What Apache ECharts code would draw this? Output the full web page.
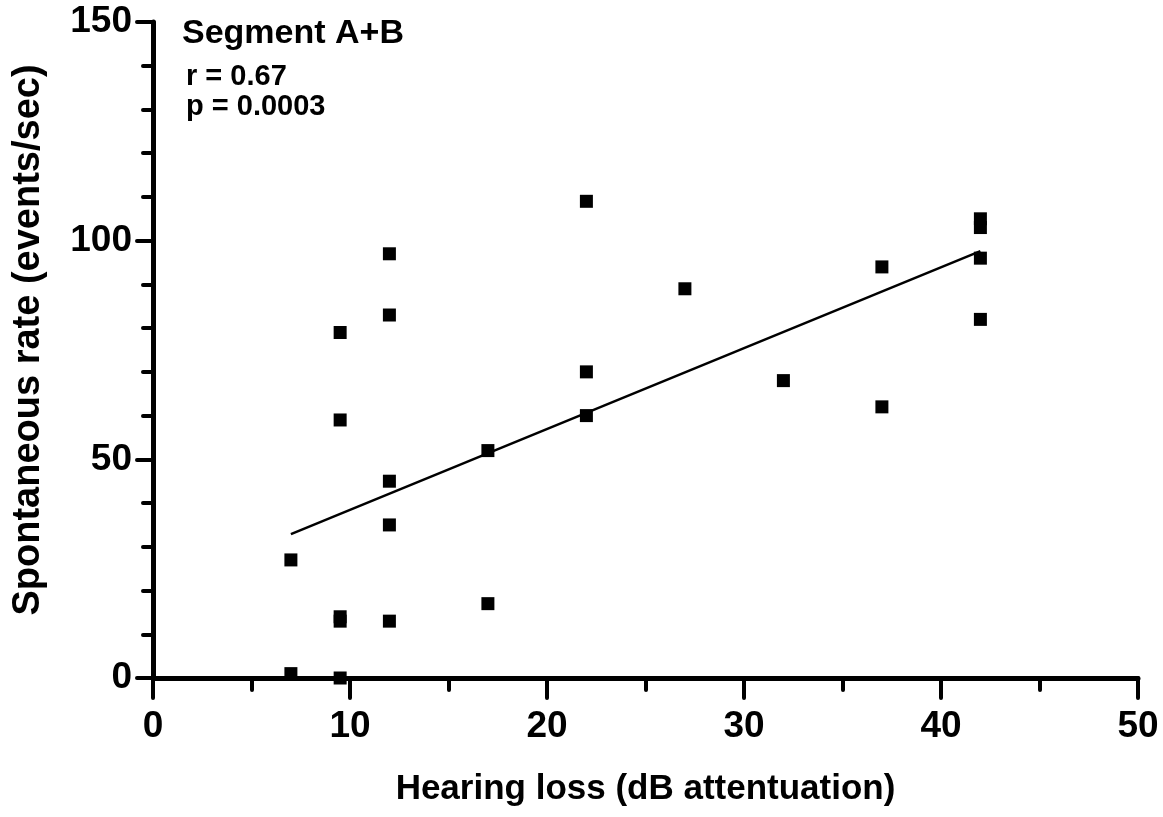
<!DOCTYPE html>
<html>
<head>
<meta charset="utf-8">
<script src="https://cdn.jsdelivr.net/npm/echarts@6/dist/echarts.min.js"></script>
<style>
  html, body { margin: 0; padding: 0; background: #fff; }
  #chart { width: 1163px; height: 817px; }
</style>
</head>
<body>
<div id="chart"></div>
<script>
// Hearing loss (dB) per recording and the spontaneous rate measured there
const hearingLoss = [7, 7, 9.5, 9.5, 9.5, 9.5, 9.5, 12, 12, 12, 12, 12, 17, 17, 22, 22, 22, 27, 32, 37, 37, 42, 42, 42, 42];
const spontaneousRate = [27, 1, 79, 59, 14, 13, 0, 97, 83, 45, 35, 13, 52, 17, 109, 70, 60, 89, 68, 94, 62, 105, 103, 96, 82];

// Linear fit drawn between the first and last hearing-loss values
const fitX = [7, 42];
const fitY = [32.9, 97.6];

const statLines = ['Segment A+B', 'r = 0.67', 'p = 0.0003'];

const FONT = '"Liberation Sans", Arial, Helvetica, sans-serif';

const points = hearingLoss.map((x, i) => [x, spontaneousRate[i]]);
const fitLine = fitX.map((x, i) => [x, fitY[i]]);

const chart = echarts.init(document.getElementById('chart'), null, { renderer: 'canvas' });

const axisLineStyle = { color: '#000', width: 5 };
const tickStyle = { color: '#000', width: 4, cap: 'round' };

chart.setOption({
  backgroundColor: '#fff',
  animation: false,
  title: [
    {
      text: statLines[0], left: 182, top: 17,
      textStyle: { fontFamily: FONT, fontWeight: 'bold', fontSize: 34, color: '#000' },
      padding: 0
    },
    {
      text: statLines[1], left: 186, top: 62,
      textStyle: { fontFamily: FONT, fontWeight: 'bold', fontSize: 29, color: '#000' },
      padding: 0
    },
    {
      text: statLines[2], left: 186, top: 92,
      textStyle: { fontFamily: FONT, fontWeight: 'bold', fontSize: 29, color: '#000' },
      padding: 0
    }
  ],
  grid: { left: 153, right: 25, top: 22, bottom: 139, containLabel: false },
  xAxis: {
    type: 'value',
    min: 0, max: 50, interval: 10,
    name: 'Hearing loss (dB attentuation)',
    nameLocation: 'middle',
    nameGap: 94,
    nameTextStyle: { fontFamily: FONT, fontWeight: 'bold', fontSize: 35, color: '#000' },
    axisLine: { show: true, onZero: false, lineStyle: axisLineStyle },
    axisTick: { show: true, length: 20, lineStyle: tickStyle },
    minorTick: { show: true, splitNumber: 2, length: 12, lineStyle: tickStyle },
    axisLabel: { margin: 30, fontFamily: FONT, fontWeight: 'bold', fontSize: 37, color: '#000' },
    splitLine: { show: false }
  },
  yAxis: {
    type: 'value',
    min: 0, max: 150, interval: 50,
    name: 'Spontaneous rate (events/sec)',
    nameLocation: 'middle',
    nameGap: 105,
    nameRotate: 90,
    nameTextStyle: { fontFamily: FONT, fontWeight: 'bold', fontSize: 38, color: '#000', padding: [0, 0, 0, 20] },
    axisLine: { show: true, onZero: false, lineStyle: axisLineStyle },
    axisTick: { show: true, length: 16, lineStyle: tickStyle },
    minorTick: { show: true, splitNumber: 5, length: 10, lineStyle: tickStyle },
    axisLabel: { margin: 21, fontFamily: FONT, fontWeight: 'bold', fontSize: 37, color: '#000' },
    splitLine: { show: false }
  },
  series: [
    {
      type: 'line',
      data: fitLine,
      showSymbol: false,
      symbol: 'none',
      lineStyle: { color: '#000', width: 2.5 },
      z: 2
    },
    {
      type: 'scatter',
      data: points,
      symbol: 'rect',
      symbolSize: 13,
      itemStyle: { color: '#000', opacity: 1 },
      z: 3
    }
  ]
});
</script>
</body>
</html>
